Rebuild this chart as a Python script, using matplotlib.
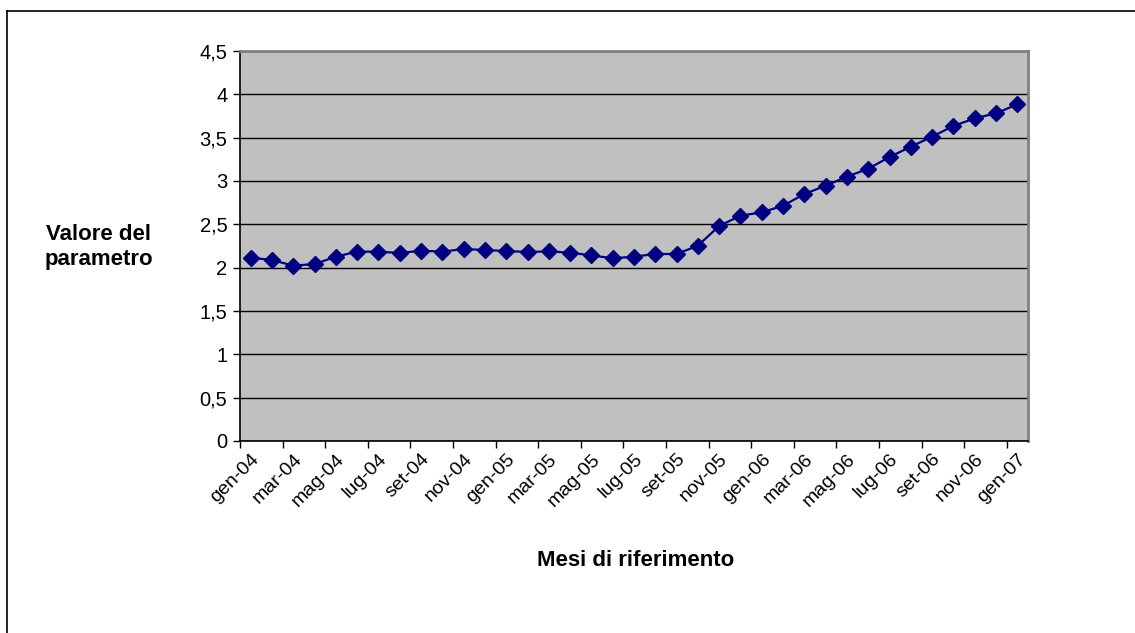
import matplotlib.pyplot as plt
from matplotlib.lines import Line2D

# monthly values, gen-04 .. gen-07 (37 months)
mesi = ['gen', 'feb', 'mar', 'apr', 'mag', 'giu', 'lug', 'ago', 'set', 'ott', 'nov', 'dic']
anni = ['04', '05', '06', '07']
categories = [f"{m}-{a}" for a in anni for m in mesi][:37]

values = [2.115, 2.088, 2.023, 2.042, 2.127, 2.185, 2.185, 2.169, 2.196, 2.185,
          2.215, 2.204, 2.192, 2.181, 2.188, 2.173, 2.142, 2.108, 2.127, 2.158,
          2.158, 2.254, 2.481, 2.600, 2.638, 2.715, 2.850, 2.946, 3.050, 3.142,
          3.277, 3.396, 3.512, 3.635, 3.723, 3.781, 3.885]

yticks = [0, 0.5, 1, 1.5, 2, 2.5, 3, 3.5, 4, 4.5]
ytick_labels = ['0', '0,5', '1', '1,5', '2', '2,5', '3', '3,5', '4', '4,5']

plt.rcParams['font.family'] = ['Liberation Sans', 'DejaVu Sans']

fig = plt.figure(figsize=(11.35, 6.33), dpi=100)
ax = fig.add_axes([240 / 1135, 1 - 441 / 633, (1028 - 240) / 1135, (441 - 51) / 633])

x = list(range(len(values)))
ax.set_facecolor('#C0C0C0')
ax.plot(x, values, color='#000080', lw=1.6, marker='D', ms=8, zorder=3)

ax.set_xlim(-0.5, len(values) - 0.5)
ax.set_ylim(0, 4.5)
ax.set_yticks(yticks)
ax.set_yticklabels(ytick_labels, fontsize=14.5)
ax.yaxis.grid(True, color='black', lw=1)
ax.set_axisbelow(True)
ax.tick_params(axis='y', length=5, width=1, pad=4)

# labels on every other category, tick marks between categories
ax.set_xticks(x[::2])
ax.set_xticklabels(categories[::2], rotation=45, ha='right', rotation_mode='anchor', fontsize=14)
ax.set_xticks([i - 0.5 for i in x[::2] if i - 0.5 < len(values) - 1], minor=True)
ax.tick_params(axis='x', which='major', length=0, pad=7)
ax.tick_params(axis='x', which='minor', length=5, width=1)

for s in ['top', 'right']:
    ax.spines[s].set_color('#808080')
    ax.spines[s].set_linewidth(2)
for s in ['left', 'bottom']:
    ax.spines[s].set_color('black')
    ax.spines[s].set_linewidth(1.2)

fig.text(99 / 1135, 1 - 247 / 633, 'Valore del\nparametro', ha='center', va='center',
         fontsize=16, fontweight='bold', linespacing=1.25)
fig.text(636 / 1135, 1 - 560 / 633, 'Mesi di riferimento', ha='center', va='center',
         fontsize=16, fontweight='bold')

# outer chart frame (top and left edges visible)
fig.add_artist(Line2D([7 / 1135, 1], [1 - 11 / 633, 1 - 11 / 633], color='black', lw=1.2))
fig.add_artist(Line2D([7 / 1135, 7 / 1135], [0, 1 - 11 / 633], color='black', lw=1.2))

plt.savefig('out.png', dpi=100)
